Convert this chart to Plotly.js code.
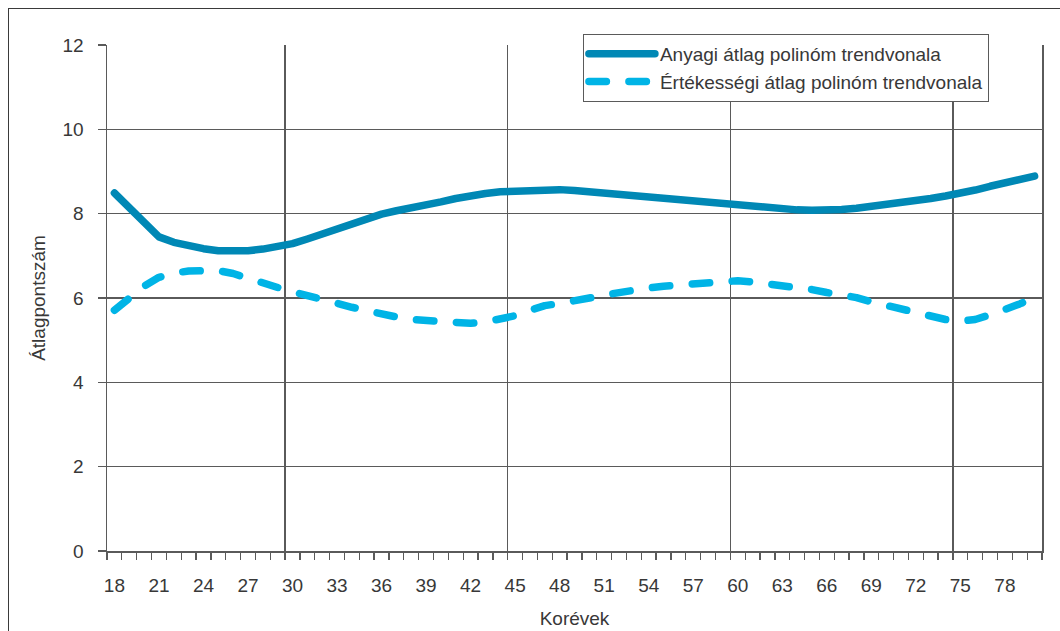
<!DOCTYPE html>
<html><head><meta charset="utf-8">
<script src="https://cdn.plot.ly/plotly-3.0.1.min.js"></script>
<style>
html,body{margin:0;padding:0;background:#fff;overflow:hidden;}
#wrap{position:relative;width:1060px;height:631px;}
#chart{position:absolute;left:0;top:0;width:1060px;height:631px;}
#frame{position:absolute;left:8px;top:8px;width:1100px;height:700px;border:1.5px solid #3a3a3a;pointer-events:none;}
.js-line{stroke-linecap:round;stroke-linejoin:round;}
</style></head>
<body><div id="wrap"><div id="chart"></div><div id="frame"></div></div>
<script>
const ages = [18,19,20,21,22,23,24,25,26,27,28,29,30,31,32,33,34,35,36,37,38,39,40,41,42,43,44,45,46,47,48,49,50,51,52,53,54,55,56,57,58,59,60,61,62,63,64,65,66,67,68,69,70,71,72,73,74,75,76,77,78,79,80];
const anyagi = [8.49,8.14,7.80,7.45,7.32,7.23,7.17,7.12,7.10,7.12,7.16,7.22,7.29,7.40,7.52,7.64,7.76,7.88,7.99,8.07,8.13,8.20,8.28,8.36,8.43,8.48,8.52,8.54,8.56,8.57,8.57,8.55,8.52,8.48,8.44,8.40,8.37,8.33,8.30,8.27,8.24,8.21,8.19,8.16,8.12,8.10,8.09,8.08,8.08,8.10,8.13,8.17,8.21,8.26,8.31,8.36,8.42,8.48,8.56,8.65,8.73,8.81,8.89];
const ertekessegi = [5.71,5.99,6.28,6.49,6.59,6.64,6.66,6.65,6.58,6.46,6.35,6.25,6.15,6.05,5.97,5.88,5.78,5.70,5.61,5.55,5.49,5.46,5.44,5.41,5.40,5.43,5.50,5.58,5.71,5.82,5.87,5.92,6.00,6.07,6.14,6.20,6.24,6.28,6.31,6.34,6.36,6.39,6.41,6.38,6.34,6.31,6.26,6.20,6.13,6.08,6.01,5.91,5.82,5.73,5.63,5.55,5.49,5.45,5.49,5.60,5.71,5.86,6.01];
const tickAges = [18,21,24,27,30,33,36,39,42,45,48,51,54,57,60,63,66,69,72,75,78];
const gridAges = [30,45,60,75];
const seriesNames = ['Anyagi átlag polinóm trendvonala','Értékességi átlag polinóm trendvonala'];

const FONT = 'Liberation Sans, Arial, sans-serif';
const TXT = '#383838';
const AX = '#5a5a5a';
const xr = [ages[0]-0.5, ages[ages.length-1]+0.5];

const traces = [
  {x: ages, y: anyagi, name: seriesNames[0], type:'scatter', mode:'lines',
   line:{color:'#0088b5', width:7.5}, xaxis:'x', yaxis:'y', hoverinfo:'skip'},
  {x: ages, y: ertekessegi, name: seriesNames[1], type:'scatter', mode:'lines',
   line:{color:'#00b4e6', width:7.5, dash:'17.5px,22.5px'}, xaxis:'x2', yaxis:'y', hoverinfo:'skip'}
];

const layout = {
  width:1060, height:631,
  margin:{l:107, r:18, t:45, b:80},
  paper_bgcolor:'rgba(0,0,0,0)', plot_bgcolor:'#fff',
  font:{family:FONT, size:19, color:TXT},
  showlegend:true,
  legend:{x:0.509, y:1.022, xanchor:'left', yanchor:'top', bgcolor:'#fff',
    bordercolor:AX, borderwidth:1, font:{family:FONT, size:19, color:TXT}, itemwidth:66, tracegroupgap:0},
  xaxis:{range:xr, tickmode:'array', tickvals:tickAges, ticktext:tickAges.map(String),
    ticks:'', showgrid:false, zeroline:false, showline:true, linecolor:AX, linewidth:1.5,
    tickfont:{family:FONT, size:19, color:TXT}, ticklabelstandoff:17,
    minor:{tickmode:'linear', tick0:xr[0], dtick:1, ticks:'outside', ticklen:7, tickcolor:AX, tickwidth:1.3, showgrid:false},
    title:{text:'Korévek', font:{family:FONT, size:19, color:TXT}, standoff:16}},
  xaxis2:{range:xr, overlaying:'x', anchor:'y', tickmode:'array', tickvals:gridAges.map(a=>a-0.5),
    showgrid:true, gridcolor:AX, gridwidth:1.5, showticklabels:false, ticks:'', showline:false, zeroline:false},
  yaxis:{range:[0,12], tickmode:'linear', tick0:0, dtick:2, ticks:'outside', ticklen:8, tickcolor:AX, tickwidth:1.3,
    showgrid:true, gridcolor:AX, gridwidth:1.5, showline:true, linecolor:AX, linewidth:1.5, mirror:true, zeroline:false,
    tickfont:{family:FONT, size:19, color:TXT}, ticklabelstandoff:10,
    title:{text:'Átlagpontszám', font:{family:FONT, size:19, color:TXT}, standoff:12}}
};

Plotly.newPlot('chart', traces, layout, {displayModeBar:false, staticPlot:true});
</script>
</body></html>
